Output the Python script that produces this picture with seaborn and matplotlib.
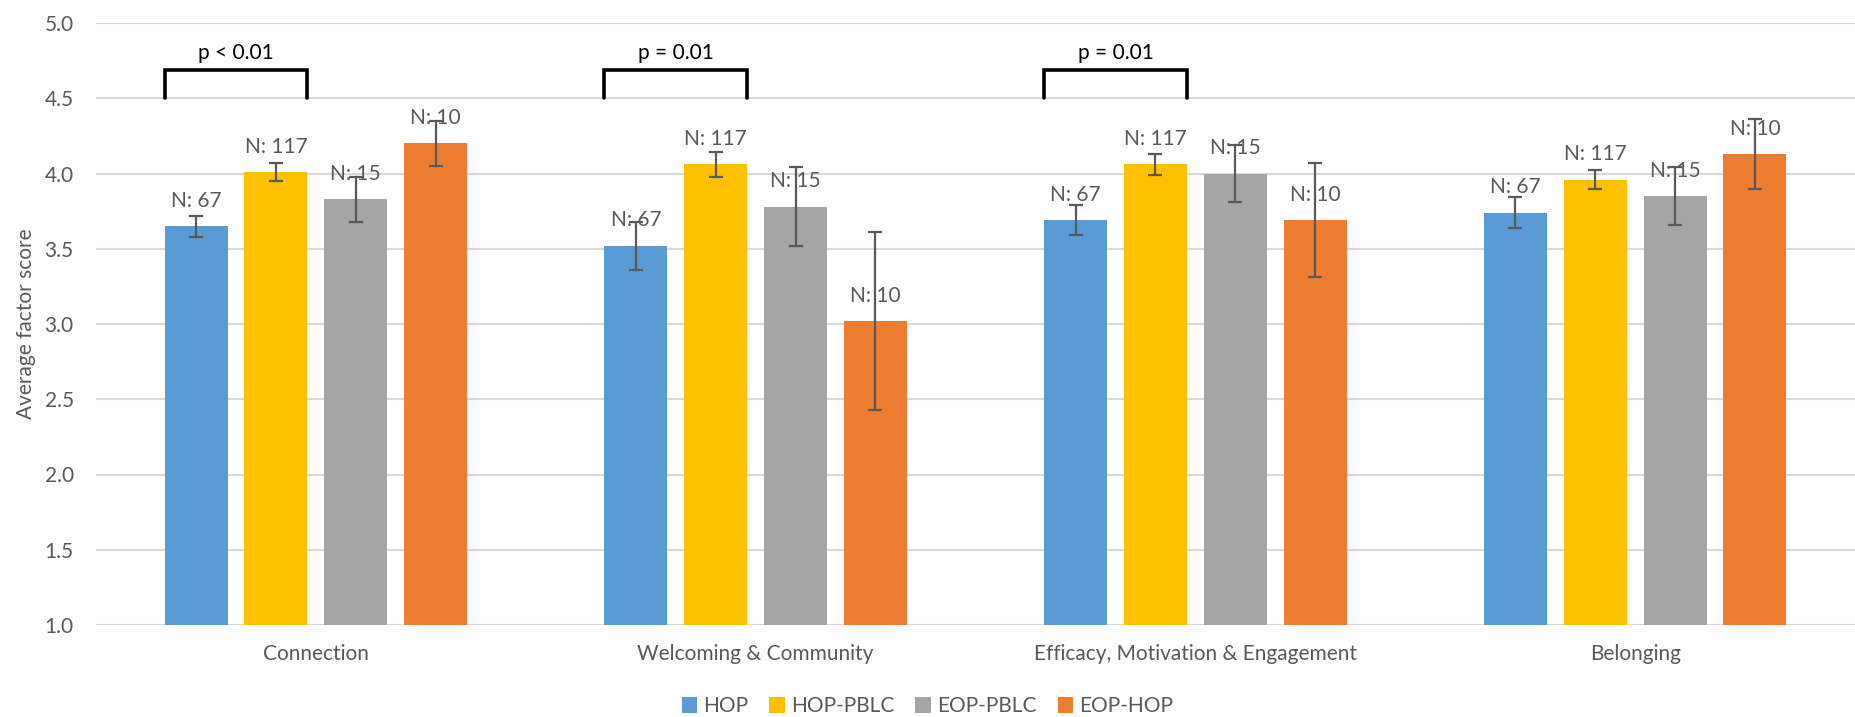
import numpy as np
import pandas as pd
import matplotlib
matplotlib.use("Agg")
import matplotlib.pyplot as plt
import seaborn as sns

# chart data
factors = ["Connection", "Welcoming & Community",
           "Efficacy, Motivation & Engagement", "Belonging"]
groups = ["HOP", "HOP-PBLC", "EOP-PBLC", "EOP-HOP"]
hop_mean = [3.65, 3.52, 3.69, 3.74]
hop_err = [0.07, 0.16, 0.10, 0.105]
hop_pblc_mean = [4.01, 4.06, 4.06, 3.96]
hop_pblc_err = [0.06, 0.08, 0.07, 0.065]
eop_pblc_mean = [3.83, 3.78, 4.00, 3.85]
eop_pblc_err = [0.15, 0.26, 0.19, 0.19]
eop_hop_mean = [4.20, 3.02, 3.69, 4.13]
eop_hop_err = [0.15, 0.59, 0.38, 0.23]
n_counts = [67, 117, 15, 10]
p_labels = ["p < 0.01", "p = 0.01", "p = 0.01"]
colors = ["#5B9BD5", "#FFC000", "#A5A5A5", "#ED7D31"]

means = [hop_mean, hop_pblc_mean, eop_pblc_mean, eop_hop_mean]
errs = [hop_err, hop_pblc_err, eop_pblc_err, eop_hop_err]

rows = []
for g, m in zip(groups, means):
    for f, v in zip(factors, m):
        rows.append({"factor": f, "group": g, "score": v})
df = pd.DataFrame(rows)

sns.set_style("white")
plt.rcParams['font.family'] = ['Lato', 'DejaVu Sans']
txt = "#595959"

fig = plt.figure(figsize=(18.55, 7.17), dpi=100)
ax = fig.add_axes([96/1855, 92/717, 1759/1855, 602/717])

sns.barplot(data=df, x="factor", y="score", hue="group", order=factors,
            hue_order=groups, palette=colors, saturation=1, width=0.726,
            gap=0.21, errorbar=None, linewidth=0, ax=ax)
bar_conts = list(ax.containers)

# error bars + N labels on each hue container
for i, cont in enumerate(bar_conts):
    xs = [b.get_x() + b.get_width() / 2 for b in cont]
    ax.errorbar(xs, means[i], yerr=errs[i], fmt="none", ecolor="#595959",
                elinewidth=1.6, capsize=5, capthick=1.6, zorder=4)
    ax.bar_label(cont, labels=["N: %d" % n_counts[i]] * len(factors),
                 padding=11, fontsize=15, color=txt, zorder=5)

# significance brackets between HOP and HOP-PBLC
for j, lab in enumerate(p_labels):
    b0 = bar_conts[0][j]
    b1 = bar_conts[1][j]
    x0 = b0.get_x()
    x1 = b1.get_x() + b1.get_width()
    ax.plot([x0, x0, x1, x1], [4.5, 4.69, 4.69, 4.5], color="black",
            lw=2.6, solid_joinstyle="miter", zorder=5)
    ax.text((x0 + x1) / 2, 4.735, lab, ha="center", va="bottom",
            fontsize=15, color="black")

ax.set_ylim(1, 5)
ax.set_yticks(np.arange(1, 5.01, 0.5))
ax.set_yticklabels(["%.1f" % v for v in np.arange(1, 5.01, 0.5)])
ax.set_xlim(-0.5, 3.5)
ax.yaxis.grid(True, color="#d9d9d9", lw=1.5)
ax.set_axisbelow(True)
for s in ax.spines.values():
    s.set_visible(False)
ax.tick_params(axis="both", length=0, labelsize=15, labelcolor=txt)
ax.tick_params(axis="y", pad=16)
ax.tick_params(axis="x", pad=14)
ax.set_xlabel("")
ax.set_ylabel("Average factor score", fontsize=15, color=txt, labelpad=6)

handles, labels = ax.get_legend_handles_labels()
if ax.get_legend() is not None:
    ax.get_legend().remove()
fig.legend(handles, labels, loc="lower center", bbox_to_anchor=(0.5, -0.025),
           ncol=4, frameon=False, fontsize=15, handlelength=0.75,
           handleheight=0.75, handletextpad=0.3, columnspacing=1.0,
           labelcolor=txt)

fig.savefig("out.png", dpi=100)
